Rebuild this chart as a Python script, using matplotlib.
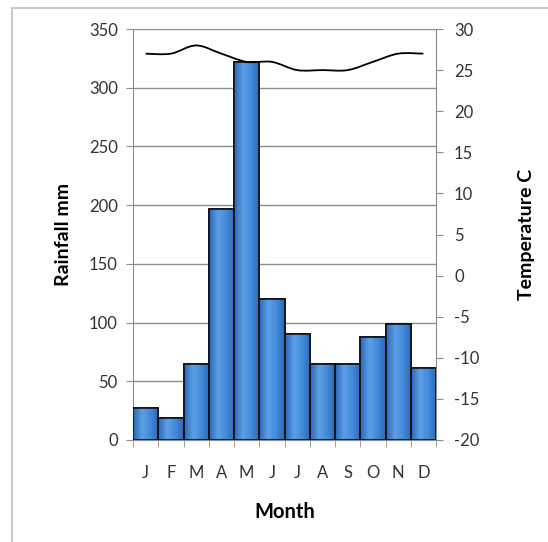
import matplotlib.pyplot as plt
import numpy as np
from matplotlib.path import Path
from matplotlib.patches import PathPatch
from matplotlib.colors import LinearSegmentedColormap

months = ["J", "F", "M", "A", "M", "J", "J", "A", "S", "O", "N", "D"]
rainfall = [27, 19, 65, 197, 322, 120, 90, 65, 65, 88, 99, 61]
temperature = [27, 27, 28, 27, 26, 26, 25, 25, 25, 26, 27, 27]

plt.rcParams["font.family"] = ["Lato", "DejaVu Sans"]
plt.rcParams["axes.unicode_minus"] = False

tick_color = "#333333"
grid_color = "#8c8c8c"

fig = plt.figure(figsize=(5.48, 5.42), dpi=100)
# рамка вокруг диаграммы
fig.patches.append(plt.Rectangle((12 / 548, -0.1), 1.2, 1 - 8 / 542 + 0.1,
                                 transform=fig.transFigure, fill=False,
                                 edgecolor="#bfbfbf", linewidth=1.2))

ax = fig.add_axes([133 / 548, 1 - 440 / 542, 303 / 548, 411 / 542])
x = np.arange(len(months))
bars = ax.bar(x, rainfall, width=1.0, color="#3c7fd0", edgecolor="black",
              linewidth=1.2, zorder=3)

# градиентная заливка столбцов
cmap = LinearSegmentedColormap.from_list(
    "bar", [(0, "#2a66b8"), (0.35, "#5d9fe6"), (0.7, "#4088d8"), (1, "#2c66b4")])
grad = np.linspace(0, 1, 64).reshape(1, -1)
for b in bars:
    bx, by = b.get_x(), b.get_y()
    im = ax.imshow(grad, cmap=cmap, aspect="auto", zorder=3.1,
                   extent=(bx, bx + b.get_width(), by, by + b.get_height()))
    im.set_clip_path(b)
    ax.bar(b.get_x() + b.get_width() / 2, b.get_height(), width=b.get_width(),
           fill=False, edgecolor="#111111", linewidth=1.2, zorder=3.2)

ax.set_xlim(-0.5, len(months) - 0.5)
ax.set_ylim(0, 350)
ax.set_yticks(range(0, 351, 50))
ax.yaxis.grid(True, color=grid_color, linewidth=1.0, zorder=0)
ax.set_axisbelow(True)
ax.set_xticks(x)
ax.set_xticklabels(months)
ax.set_xticks(np.arange(-0.5, len(months)), minor=True)
ax.tick_params(axis="x", which="major", length=0, pad=18, labelsize=12,
               labelcolor=tick_color)
ax.tick_params(axis="x", which="minor", length=5, color=grid_color)
ax.tick_params(axis="y", length=5, color=grid_color, labelsize=12,
               labelcolor=tick_color, pad=6)
for side in ["top", "right"]:
    ax.spines[side].set_visible(False)
for side in ["left", "bottom"]:
    ax.spines[side].set_color(grid_color)
ax.set_ylabel("Rainfall mm", fontweight="bold", fontsize=14, labelpad=12)
ax.set_xlabel("Month", fontweight="bold", fontsize=14.5, labelpad=15)

ax2 = ax.twinx()
# сглаженная линия температуры (кривые Безье через точки данных)
pts = np.column_stack([x, temperature]).astype(float)
verts = [tuple(pts[0])]
codes = [Path.MOVETO]
for i in range(len(pts) - 1):
    p0 = pts[max(i - 1, 0)]
    p1 = pts[i]
    p2 = pts[i + 1]
    p3 = pts[min(i + 2, len(pts) - 1)]
    c1 = p1 + (p2 - p0) / 6
    c2 = p2 - (p3 - p1) / 6
    verts += [tuple(c1), tuple(c2), tuple(p2)]
    codes += [Path.CURVE4] * 3
ax2.add_patch(PathPatch(Path(verts, codes), fill=False, edgecolor="black",
                        linewidth=1.3, zorder=4))
ax2.set_ylim(-20, 30)
ax2.set_yticks(range(-20, 31, 5))
ax2.tick_params(axis="y", length=5, color=grid_color, labelsize=12,
                labelcolor=tick_color, pad=8)
for side in ["top", "left", "bottom"]:
    ax2.spines[side].set_visible(False)
ax2.spines["right"].set_color(grid_color)
ax2.set_ylabel("Temperature C", fontweight="bold", fontsize=14, labelpad=28)

fig.savefig("out.png", dpi=100)
